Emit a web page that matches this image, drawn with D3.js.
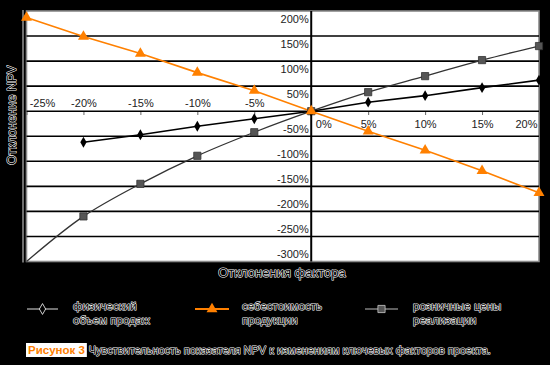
<!DOCTYPE html>
<html><head><meta charset="utf-8">
<script src="https://cdn.jsdelivr.net/npm/d3@7"></script>
<style>body{margin:0;background:#000}svg{display:block}text{font-family:"Liberation Sans",Arial,sans-serif}</style>
</head><body><svg id="c" width="550" height="365"></svg>
<script>
const factorCats=[-25,-20,-15,-10,-5,0,5,10,15,20];
const volumeVals=[null,-62,-47,-30,-15,0,18,31,47,62];
const costVals=[187,149,115,77,41,0,-40,-78,-119,-163];
const priceVals=[-300,-210,-145,-89,-42,0,38,70,102,130];
const yTickVals=[200,150,100,50,-50,-100,-150,-200,-250,-300];
const seriesNames=[["физический","объем продаж"],["себестоимость","продукции"],["розничные цены","реализации"]];
const yTitle="Отклонение NPV";
const xTitle="Отклонения фактора";
const captionLead="Рисунок 3";
const captionText="Чувствительность показателя NPV к изменениям ключевых факторов проекта.";

const ORANGE="#ff8000", GRAY="#555", GRAYLINE="#333";
const svg=d3.select("#c");
svg.append("rect").attr("width",550).attr("height",365).attr("fill","#000");

const x=d3.scaleLinear().domain([-25,20]).range([26.5,539]);
const y=d3.scaleLinear().domain([-300,200]).range([261.5,11]);

function halo(sel){return sel.attr("fill","#000").attr("stroke","#fff").attr("stroke-width",1.1).attr("paint-order","stroke").attr("stroke-linejoin","round");}

svg.append("line").attr("x1",23).attr("x2",23).attr("y1",y(200)-1).attr("y2",y(-300)+1).attr("stroke","#ddd").attr("stroke-width",1);

svg.append("rect").attr("x",x(-25)).attr("y",y(200)).attr("width",x(20)-x(-25)).attr("height",y(-300)-y(200))
  .attr("fill","#fff").attr("stroke","#8a8a8a").attr("stroke-width",1.6);

const grid=svg.append("g");
grid.selectAll("line").data(yTickVals.filter(v=>v<200&&v>-300).concat([0])).join("line")
  .attr("x1",x(-25)).attr("x2",x(20)).attr("y1",d=>y(d)).attr("y2",d=>y(d))
  .attr("stroke","#000").attr("stroke-width",1.6);

svg.append("line").attr("x1",x(0)).attr("x2",x(0)).attr("y1",y(200)).attr("y2",y(-300)).attr("stroke","#000").attr("stroke-width",2);

svg.append("g").selectAll("text").data(yTickVals).join("text")
  .attr("x",x(0)-2.5).attr("y",d=>y(d)+(d>0?7.8:-7.3)).attr("dy","0.35em")
  .attr("text-anchor","end").attr("font-size",11).attr("fill","#222")
  .text(d=>d+"%");

const xAxis=d3.axisBottom(x).tickValues(factorCats).tickSize(3).tickFormat(d=>d+"%");
const xg=svg.append("g").attr("transform",`translate(0,${y(0)+0.8})`).call(xAxis);
xg.select(".domain").remove();
xg.selectAll(".tick line").attr("stroke","#666");
const labelShift={"-25":15.5,"0":12,"20":-13};
xg.selectAll(".tick text").attr("font-size",11).attr("fill","#222").attr("font-family","Liberation Sans, Arial, sans-serif")
  .attr("dy",null)
  .attr("x",d=>labelShift[d]||0)
  .attr("y",d=>d<0?-5.5:15.5);

const line=d3.line().defined(d=>d[1]!=null).x(d=>x(d[0])).y(d=>y(d[1]));
const volData=factorCats.map((c,i)=>[c,volumeVals[i]]);
const costData=factorCats.map((c,i)=>[c,costVals[i]]);
const priceData=factorCats.map((c,i)=>[c,priceVals[i]]);

svg.append("path").datum(priceData).attr("d",line.curve(d3.curveCatmullRom.alpha(0.5))).attr("fill","none").attr("stroke",GRAYLINE).attr("stroke-width",1.3);
line.curve(d3.curveLinear);
svg.append("path").datum(volData).attr("d",line).attr("fill","none").attr("stroke","#000").attr("stroke-width",1.6);
svg.append("path").datum(costData).attr("d",line).attr("fill","none").attr("stroke",ORANGE).attr("stroke-width",1.6);

const sq=d3.symbol().type(d3.symbolSquare).size(52);
const dia=d3.symbol().type(d3.symbolDiamond).size(34);
const tri=d3.symbol().type(d3.symbolTriangle).size(52);

svg.append("g").selectAll("path").data(priceData.filter(d=>d[1]>-300)).join("path")
  .attr("transform",d=>`translate(${x(d[0])},${y(d[1])})`).attr("d",sq).attr("fill",GRAY).attr("stroke","#333").attr("stroke-width",0.8);
svg.append("g").selectAll("path").data(volData.filter(d=>d[1]!=null)).join("path")
  .attr("transform",d=>`translate(${x(d[0])},${y(d[1])})`).attr("d",dia).attr("fill","#000");
svg.append("g").selectAll("path").data(costData).join("path")
  .attr("transform",d=>`translate(${x(d[0])},${y(d[1])})`).attr("d",tri).attr("fill",ORANGE);

halo(svg.append("text").attr("transform",`translate(16,115) rotate(-90)`).attr("text-anchor","middle")
  .attr("font-size",12.5).text(yTitle));
halo(svg.append("text").attr("x",282).attr("y",277).attr("text-anchor","middle").attr("font-size",13).text(xTitle));

const legX=[27,195,365], legW=[31,34,33], legTextX=[73,242,413];
const legSyms=[dia,tri,sq];
const legFill=["#000",ORANGE,GRAY];
const lg=svg.append("g");
seriesNames.forEach((names,i)=>{
  lg.append("line").attr("x1",legX[i]).attr("x2",legX[i]+legW[i]).attr("y1",309).attr("y2",309)
    .attr("stroke",i==1?ORANGE:"#bbb").attr("stroke-width",i==1?2:1.2);
  lg.append("path").attr("transform",`translate(${legX[i]+legW[i]/2},309)`).attr("d",legSyms[i])
    .attr("fill",legFill[i]).attr("stroke",i==0?"#fff":(i==2?"#ccc":"none")).attr("stroke-width",0.8);
  names.forEach((t,j)=>{
    halo(lg.append("text").attr("x",legTextX[i]).attr("y",310+j*13.5).attr("font-size",11.5).text(t));
  });
});

const cap=svg.append("g");
const lead=cap.append("text").attr("x",28).attr("y",354).attr("font-size",11.5).attr("font-weight","bold").attr("fill",ORANGE).text(captionLead);
const bb=lead.node().getBBox();
cap.insert("rect","text").attr("x",bb.x-2).attr("y",bb.y-1).attr("width",bb.width+4).attr("height",bb.height+2).attr("fill","#fff");
halo(cap.append("text").attr("x",bb.x+bb.width+4).attr("y",354).attr("font-size",11).attr("textLength",402).attr("lengthAdjust","spacingAndGlyphs").text(captionText));
</script>
</body></html>
